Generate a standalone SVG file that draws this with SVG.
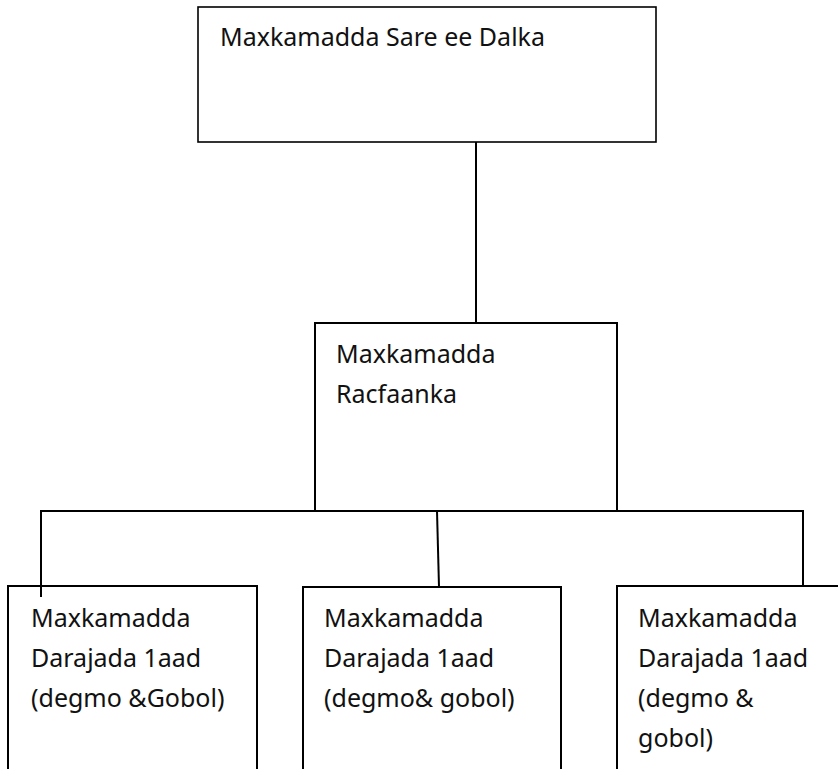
<svg xmlns="http://www.w3.org/2000/svg" width="838" height="769" viewBox="0 0 838 769">
<style>
.box{fill:#fff;stroke:#000;stroke-width:2}
.thin{stroke-width:1.6}
.lbl{font-family:"Noto Sans","Open Sans",sans-serif;font-size:25px;fill:#111}
.con{fill:none;stroke:#000;stroke-width:2}
</style>
<rect width="838" height="769" fill="#fff"/>
<g id="connectors">
<line class="con" x1="476" y1="133" x2="476" y2="323"/>
<polyline class="con" points="41,597 41,511 803,511 803,586"/>
<line class="con" x1="437" y1="511" x2="439" y2="587"/>
</g>
<g id="node-sare">
<rect class="box thin" x="198" y="7" width="458" height="135"/>
<text class="lbl" x="220" y="46">Maxkamadda Sare ee Dalka</text>
</g>
<g id="node-racfaanka">
<rect class="box" x="315" y="323" width="302" height="188"/>
<text class="lbl" x="336" y="363">Maxkamadda</text>
<text class="lbl" x="336" y="403">Racfaanka</text>
</g>
<g id="node-darajada-1">
<rect class="box" x="8" y="586" width="249" height="200"/>
<line class="con" x1="41" y1="586" x2="41" y2="597"/>
<text class="lbl" x="31" y="627">Maxkamadda</text>
<text class="lbl" x="31" y="667">Darajada 1aad</text>
<text class="lbl" x="31" y="707">(degmo &amp;Gobol)</text>
</g>
<g id="node-darajada-2">
<rect class="box" x="303" y="587" width="258" height="200"/>
<text class="lbl" x="324" y="627">Maxkamadda</text>
<text class="lbl" x="324" y="667">Darajada 1aad</text>
<text class="lbl" x="324" y="707">(degmo&amp; gobol)</text>
</g>
<g id="node-darajada-3">
<rect class="box" x="617" y="586" width="240" height="200"/>
<text class="lbl" x="638" y="627">Maxkamadda</text>
<text class="lbl" x="638" y="667">Darajada 1aad</text>
<text class="lbl" x="638" y="707">(degmo &amp;</text>
<text class="lbl" x="638" y="747">gobol)</text>
</g>
</svg>
